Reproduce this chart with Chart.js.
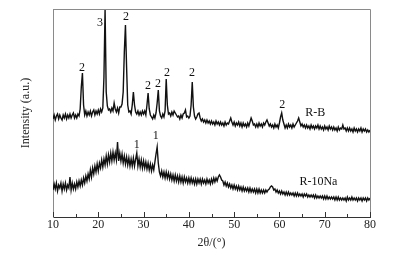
<!DOCTYPE html>
<html>
<head>
<meta charset="utf-8">
<script src="https://cdn.jsdelivr.net/npm/chart.js@4/dist/chart.umd.min.js"></script>
<style>
  html, body { margin: 0; padding: 0; background: #fff; }
  #xrd { display: block; }
</style>
</head>
<body>
<canvas id="xrd" width="400" height="258"></canvas>
<script>
// 2theta grid: 10 to 80 deg, every 0.25 deg
const angleStart = 10;
const angleStep = 0.25;

// R-B pattern (arbitrary intensity), one row per 5 deg
const rbIntensity = [
  98, 102, 97, 101, 103, 98, 102, 99, 97, 102, 99, 103, 98, 102, 99, 103, 99, 102, 104, 99,
  102, 99, 103, 101, 108, 130, 144, 112, 102, 106, 101, 105, 102, 106, 101, 105, 107, 102, 106, 103,
  107, 103, 108, 105, 109, 140, 208, 125, 111, 107, 108, 105, 109, 106, 114, 108, 105, 109, 104, 110,
  110, 113, 125, 165, 192, 150, 112, 105, 106, 103, 112, 125, 112, 105, 103, 106, 102, 105, 102, 106,
  103, 106, 102, 112, 124, 108, 102, 100, 98, 102, 99, 104, 114, 127, 106, 101, 99, 103, 100, 106,
  138, 112, 103, 104, 101, 105, 102, 106, 104, 102, 100, 101, 98, 102, 99, 103, 104, 107, 100, 101,
  99, 101, 112, 135, 110, 101, 98, 100, 103, 104, 99, 96, 98, 95, 97, 94, 97, 94, 96, 93,
  96, 93, 95, 92, 96, 93, 95, 92, 95, 92, 94, 91, 95, 92, 94, 93, 96, 99, 95, 92,
  95, 91, 94, 92, 95, 91, 94, 90, 94, 91, 93, 90, 94, 91, 95, 99, 96, 92, 93, 90,
  93, 90, 94, 91, 93, 90, 94, 92, 95, 97, 94, 91, 93, 90, 92, 89, 93, 90, 92, 89,
  94, 100, 104, 97, 93, 89, 92, 89, 93, 90, 92, 89, 93, 90, 92, 94, 96, 99, 95, 91,
  93, 90, 92, 89, 92, 89, 91, 88, 92, 89, 91, 88, 91, 89, 92, 88, 91, 88, 90, 87,
  91, 88, 90, 87, 91, 88, 90, 87, 90, 87, 89, 86, 90, 87, 89, 88, 92, 88, 89, 86,
  89, 86, 89, 86, 88, 85, 89, 86, 88, 85, 88, 86, 89, 85, 88, 86, 88, 85, 87, 85,
  87
];

// R-10Na pattern
const naIntensity = [
  27, 33, 28, 34, 26, 32, 29, 34, 26, 33, 28, 34, 27, 32, 29, 40, 27, 34, 28, 33,
  28, 35, 30, 36, 31, 37, 32, 39, 34, 41, 36, 43, 38, 47, 40, 49, 43, 51, 45, 53,
  46, 54, 49, 57, 50, 58, 52, 61, 53, 62, 55, 64, 56, 65, 57, 64, 57, 75, 56, 64,
  56, 63, 54, 61, 53, 60, 52, 59, 51, 58, 51, 59, 51, 58, 64, 51, 58, 50, 57, 49,
  56, 49, 55, 48, 54, 47, 53, 46, 52, 47, 55, 63, 70, 54, 45, 41, 46, 40, 45, 39,
  45, 39, 44, 38, 43, 37, 42, 36, 42, 36, 41, 35, 41, 35, 40, 34, 40, 35, 39, 34,
  39, 34, 39, 34, 38, 33, 38, 33, 38, 34, 38, 33, 38, 34, 37, 33, 38, 34, 37, 33,
  38, 34, 39, 35, 39, 36, 40, 42, 40, 37, 36, 32, 35, 31, 34, 30, 33, 29, 32, 28,
  32, 28, 31, 27, 31, 27, 30, 26, 30, 26, 29, 26, 29, 25, 29, 25, 28, 25, 28, 24,
  28, 24, 28, 24, 27, 24, 27, 24, 27, 25, 27, 28, 30, 31, 30, 27, 28, 25, 27, 24,
  26, 23, 26, 23, 25, 22, 25, 22, 25, 22, 24, 22, 24, 21, 24, 21, 24, 21, 23, 21,
  23, 20, 23, 21, 23, 20, 22, 20, 22, 20, 22, 19, 22, 19, 21, 19, 21, 19, 21, 18,
  21, 18, 21, 18, 20, 18, 20, 18, 20, 17, 20, 17, 20, 17, 19, 17, 19, 17, 19, 16,
  20, 17, 19, 17, 20, 17, 19, 17, 19, 16, 19, 17, 19, 16, 19, 17, 19, 16, 19, 17,
  19
];

// peak markers: text, 2theta, height
const peakText = ["2", "3", "2", "2", "2", "2", "2", "2", "1", "1"];
const peakAngle = [16.4, 20.4, 26.1, 31.0, 33.2, 35.2, 40.7, 60.6, 28.5, 32.7];
const peakHeight = [149, 194, 200, 131, 133, 144, 144, 112, 72, 81];

const seriesNames = ["R-B", "R-10Na"];
const nameAngle = [67.9, 68.6];
const nameHeight = [104, 35];

const xTicks = [10, 20, 30, 40, 50, 60, 70, 80];

const serif = "'Liberation Serif', 'Times New Roman', serif";

function toPoints(values) {
  return values.map((v, i) => ({ x: angleStart + i * angleStep, y: v }));
}

const markerPlugin = {
  id: "markers",
  afterDatasetsDraw(chart) {
    const ctx = chart.ctx;
    const x = chart.scales.x;
    const y = chart.scales.y;
    const area = chart.chartArea;
    ctx.save();
    // frame: top and right
    ctx.strokeStyle = "#8a8a8a";
    ctx.lineWidth = 1;
    ctx.beginPath();
    ctx.moveTo(area.left, area.top + 0.5);
    ctx.lineTo(area.right + 0.5, area.top + 0.5);
    ctx.lineTo(area.right + 0.5, area.bottom);
    ctx.stroke();
    // inward ticks on the bottom axis
    ctx.strokeStyle = "#333";
    for (let a = 10; a <= 80; a += 5) {
      const px = Math.round(x.getPixelForValue(a)) + 0.5;
      const len = a % 10 === 0 ? 5 : 3;
      ctx.beginPath();
      ctx.moveTo(px, area.bottom);
      ctx.lineTo(px, area.bottom - len);
      ctx.stroke();
    }
    ctx.fillStyle = "#111";
    ctx.font = "12px " + serif;
    ctx.textAlign = "center";
    ctx.textBaseline = "middle";
    peakText.forEach((t, i) => {
      ctx.fillText(t, x.getPixelForValue(peakAngle[i]), y.getPixelForValue(peakHeight[i]));
    });
    seriesNames.forEach((t, i) => {
      ctx.fillText(t, x.getPixelForValue(nameAngle[i]), y.getPixelForValue(nameHeight[i]));
    });
    ctx.restore();
  }
};

new Chart(document.getElementById("xrd"), {
  type: "line",
  data: {
    datasets: [
      { label: seriesNames[0], data: toPoints(rbIntensity) },
      { label: seriesNames[1], data: toPoints(naIntensity) }
    ]
  },
  options: {
    responsive: false,
    animation: false,
    devicePixelRatio: 1,
    layout: { padding: { top: 9, right: 30, left: 0, bottom: 0 } },
    elements: {
      point: { radius: 0 },
      line: { borderColor: "#111", borderWidth: 1.4, tension: 0 }
    },
    plugins: {
      legend: { display: false },
      tooltip: { enabled: false }
    },
    scales: {
      x: {
        type: "linear",
        min: 10,
        max: 80,
        afterBuildTicks: (s) => { s.ticks = xTicks.map((v) => ({ value: v })); },
        afterFit: (s) => { s.height = 41; },
        ticks: {
          color: "#222",
          padding: 1,
          maxRotation: 0,
          font: { family: serif, size: 12 }
        },
        grid: { display: false, drawTicks: false },
        border: { display: true, color: "#333", width: 1 },
        title: {
          display: true,
          text: "2θ/(°)",
          color: "#222",
          font: { family: serif, size: 12 },
          padding: { top: 0, bottom: 8 }
        }
      },
      y: {
        min: 0,
        max: 208,
        afterFit: (s) => { s.width = 53; },
        ticks: { display: false },
        grid: { display: false, drawTicks: false },
        border: { display: true, color: "#8a8a8a", width: 1 },
        title: {
          display: true,
          text: "Intensity (a.u.)",
          color: "#222",
          font: { family: serif, size: 12 },
          padding: { top: 19, bottom: 0 }
        }
      }
    }
  },
  plugins: [markerPlugin]
});
</script>
</body>
</html>
